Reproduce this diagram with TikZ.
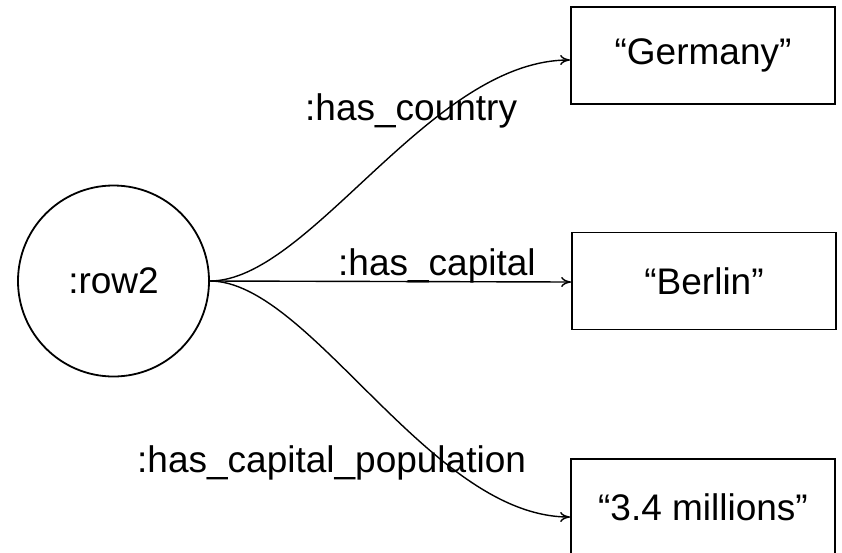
\documentclass[tikz,border=0pt]{standalone}
\usepackage{fontspec}
\setmainfont{Liberation Sans}
\usetikzlibrary{arrows.meta}

\tikzset{
  resource/.style={circle,draw,line width=1.8pt,minimum size=191pt,inner sep=0pt},
  literal/.style={rectangle,draw,line width=1.8pt,minimum width=264pt,minimum height=97pt,inner sep=0pt},
  prop/.style={inner sep=0pt,anchor=base west},
  link/.style={line width=1.4pt,-{To[length=10pt,width=10pt]}}
}

\begin{document}
\begin{tikzpicture}[x=1pt,y=-1pt,font=\fontsize{37}{40}\selectfont]
\useasboundingbox (0,0) rectangle (842,552);

%NODES
\node[resource] (row2) at (113.5,281) {:row2};
\node[literal] (germany) at (703,55.5) {“Germany”};
\node[literal] (berlin) at (704,281) {“Berlin”};
\node[literal] (millions) at (703,507.5) {“3.4 millions”};

%LABELS
\node[prop] (country) at (305,120) {:has\_country};
\node[prop] (capital) at (338,275) {:has\_capital};
\node[prop] (population) at (137,472) {:has\_capital\_population};

%EDGES
\draw[link] (row2.east) .. controls +(100,0) and +(-140,0) .. ([yshift=-4.5pt]germany.west);
\draw[link] (row2.east) -- ([yshift=-1pt]berlin.west);
\draw[link] (row2.east) .. controls +(100,0) and +(-140,0) .. ([yshift=-9.5pt]millions.west);

\end{tikzpicture}
\end{document}
